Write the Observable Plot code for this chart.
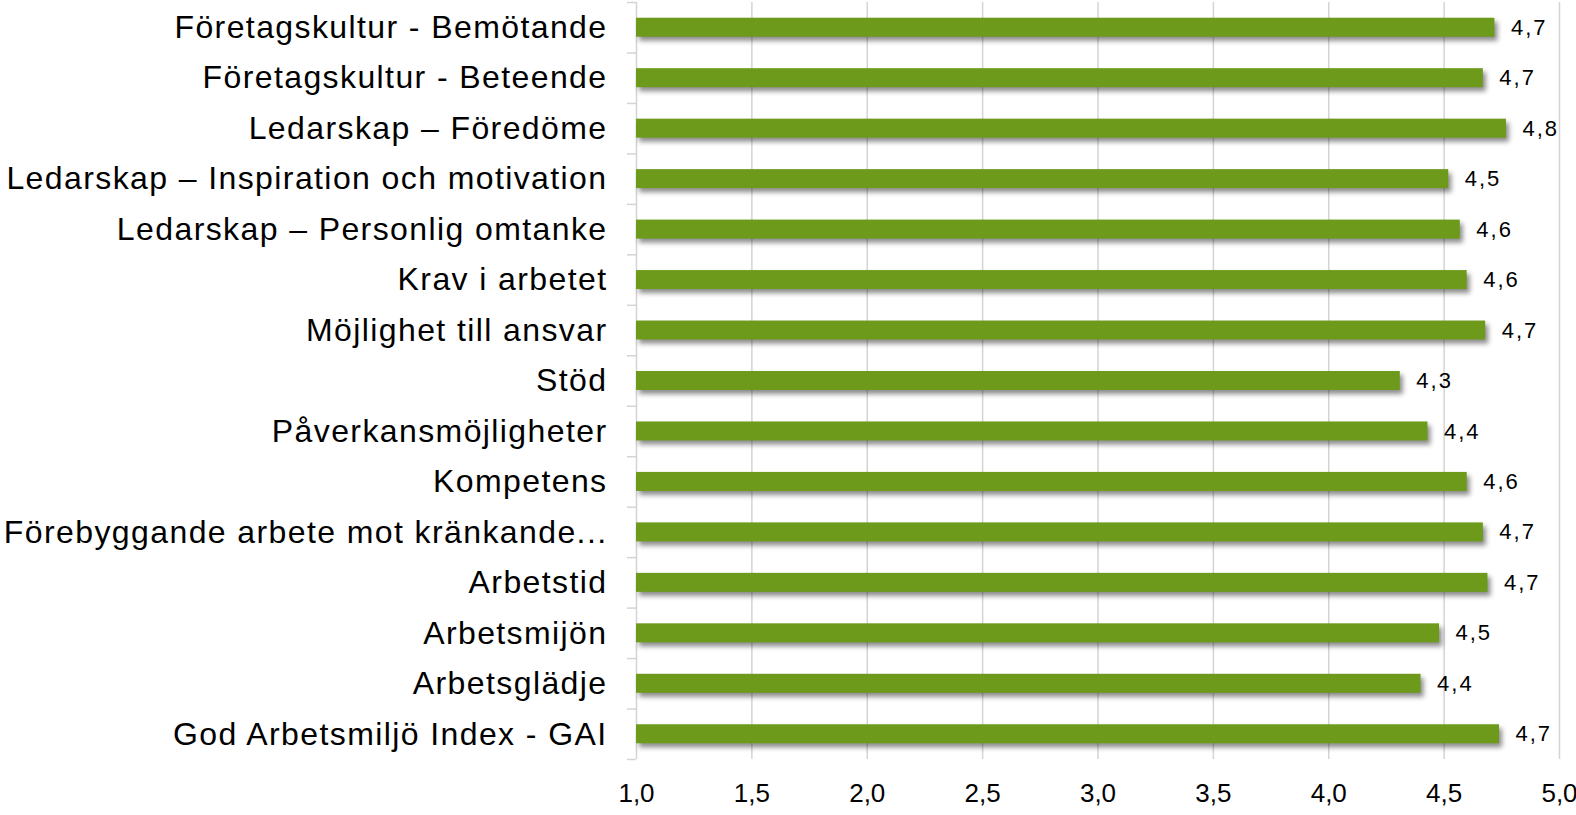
<!DOCTYPE html>
<html><head><meta charset="utf-8">
<script src="https://cdn.jsdelivr.net/npm/d3@7"></script>
<script src="https://cdn.jsdelivr.net/npm/@observablehq/plot@0.6"></script>
<style>
html,body{margin:0;padding:0;background:#fff;overflow:hidden}
#chart svg{display:block}
g[aria-label="y-axis tick label"]{font-size:32px}
g[aria-label="y-axis tick label"] text{letter-spacing:1.4px}
g[aria-label="x-axis tick label"]{font-size:26px}
g[aria-label="bar"]{filter:drop-shadow(3px 4px 2.5px rgba(0,0,0,0.45))}
g[aria-label="text"] text{letter-spacing:2px}
</style></head><body><div id="chart"></div>
<script>
const categories = [
  "Företagskultur - Bemötande",
  "Företagskultur - Beteende",
  "Ledarskap – Föredöme",
  "Ledarskap – Inspiration och motivation",
  "Ledarskap – Personlig omtanke",
  "Krav i arbetet",
  "Möjlighet till ansvar",
  "Stöd",
  "Påverkansmöjligheter",
  "Kompetens",
  "Förebyggande arbete mot kränkande...",
  "Arbetstid",
  "Arbetsmijön",
  "Arbetsglädje",
  "God Arbetsmiljö Index - GAI"
];
const values = [4.72, 4.67, 4.77, 4.52, 4.57, 4.60, 4.68, 4.31, 4.43, 4.60, 4.67, 4.69, 4.48, 4.40, 4.74];
const xTicks = [1, 1.5, 2, 2.5, 3, 3.5, 4, 4.5, 5];

const data = categories.map((c, i) => ({category: c, value: values[i]}));
const W = 1576, H = 815, mT = 2, mB = 56;
const step = (H - mT - mB) / categories.length;
const barH = 19;
const fmt = d => d.toFixed(1).replace(".", ",");
const grey = "#d4d4d4";

const chart = Plot.plot({
  width: W, height: H,
  marginTop: mT, marginBottom: mB, marginLeft: 626, marginRight: 17,
  style: {fontFamily: "'Liberation Sans', Arial, sans-serif", color: "#000", background: "#fff"},
  x: {domain: [1, 5], insetLeft: 10, label: null},
  y: {domain: categories, padding: 0, round: false, label: null},
  marks: [
    Plot.ruleX(xTicks.slice(1), {stroke: grey, strokeWidth: 1.5}),
    Plot.ruleX([1], {stroke: grey, strokeWidth: 1.5}),
    Plot.ruleY(categories, {y: d => d, dy: -step / 2, x1: 1, x2: 1, insetLeft: -9, stroke: grey, strokeWidth: 1.5}),
    Plot.ruleY(categories.slice(-1), {y: d => d, dy: step / 2, x1: 1, x2: 1, insetLeft: -9, stroke: grey, strokeWidth: 1.5}),
    Plot.barX(data, {x1: 1, x2: "value", y: "category", fill: "#6d9a1a",
      insetTop: (step - barH) / 2, insetBottom: (step - barH) / 2}),
    Plot.text(data, {x: "value", y: "category", text: d => fmt(d.value), dx: 16,
      textAnchor: "start", fontSize: 22, fill: "#000"}),
    Plot.axisY({tickSize: 0, tickPadding: 19, fontSize: 32, label: null}),
    Plot.axisX({ticks: xTicks, tickFormat: fmt, tickSize: 0, tickPadding: 24, fontSize: 26, label: null})
  ]
});
document.getElementById("chart").appendChild(chart);
</script></body></html>
